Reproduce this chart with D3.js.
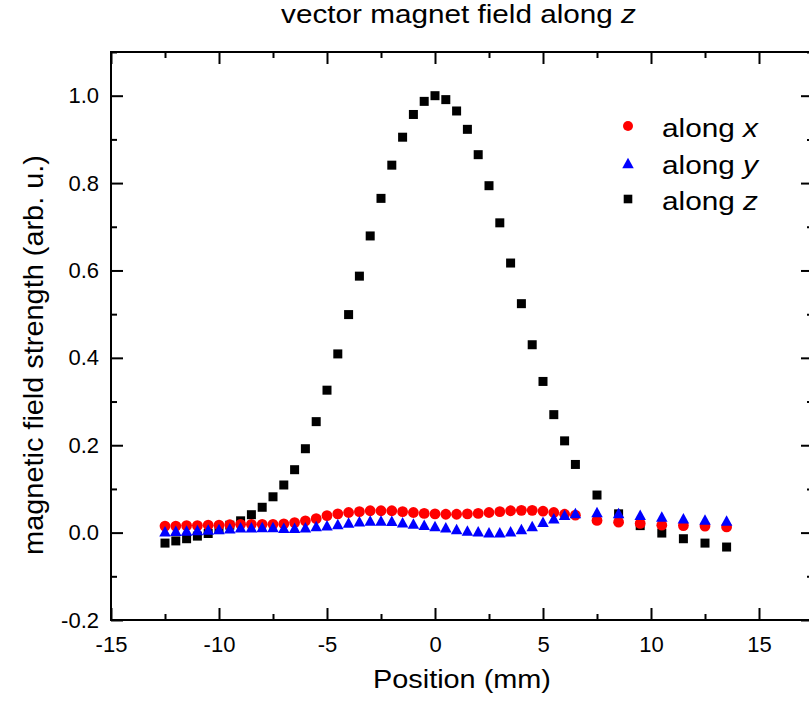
<!DOCTYPE html>
<html>
<head>
<meta charset="utf-8">
<script src="https://cdn.jsdelivr.net/npm/d3@7"></script>
<style>
  html, body { margin: 0; padding: 0; background: #fff; }
  svg { display: block; }
  text { font-family: "Liberation Sans", Arial, Helvetica, sans-serif; fill: #000; }
</style>
</head>
<body>
<svg id="chart" width="809" height="708"></svg>
<script>
// ---------- data ----------
const positions = [-12.5, -12, -11.5, -11, -10.5, -10, -9.5, -9, -8.5, -8, -7.5, -7, -6.5, -6, -5.5, -5,
  -4.5, -4, -3.5, -3, -2.5, -2, -1.5, -1, -0.5, 0, 0.5, 1, 1.5, 2, 2.5, 3, 3.5, 4, 4.5, 5, 5.5, 6, 6.5,
  7.5, 8.5, 9.5, 10.5, 11.5, 12.5, 13.5];

const alongX = [0.015, 0.015, 0.016, 0.016, 0.017, 0.017, 0.018, 0.019, 0.019, 0.019, 0.019, 0.020, 0.023, 0.027, 0.032, 0.039,
  0.043, 0.046, 0.048, 0.050, 0.050, 0.050, 0.048, 0.046, 0.044, 0.043, 0.042, 0.042, 0.043, 0.044, 0.046, 0.048, 0.050, 0.051, 0.051, 0.049, 0.046, 0.042, 0.040,
  0.028, 0.024, 0.021, 0.017, 0.016, 0.015, 0.013];

const alongY = [0.003, 0.004, 0.005, 0.006, 0.007, 0.008, 0.010, 0.012, 0.012, 0.013, 0.013, 0.011, 0.011, 0.012, 0.015, 0.017,
  0.020, 0.023, 0.026, 0.028, 0.028, 0.027, 0.024, 0.021, 0.018, 0.015, 0.012, 0.008, 0.005, 0.003, 0.001, 0.001, 0.003, 0.008, 0.015, 0.025, 0.033, 0.041, 0.045,
  0.047, 0.045, 0.041, 0.037, 0.033, 0.030, 0.028];

const alongZ = [-0.024, -0.019, -0.014, -0.008, -0.002, 0.007, 0.017, 0.027, 0.041, 0.058, 0.082, 0.109, 0.144, 0.192, 0.254, 0.326,
  0.409, 0.499, 0.587, 0.679, 0.765, 0.841, 0.905, 0.957, 0.987, 1.000, 0.991, 0.965, 0.923, 0.865, 0.794, 0.709, 0.617, 0.524, 0.430, 0.346, 0.270, 0.210, 0.156,
  0.086, 0.043, 0.016, -0.001, -0.014, -0.024, -0.033];

const xMajorTicks = [-15, -10, -5, 0, 5, 10, 15];
const xMinorTicks = [-12.5, -7.5, -2.5, 2.5, 7.5, 12.5, 17.5];
const yMajorTicks = [-0.2, 0.0, 0.2, 0.4, 0.6, 0.8, 1.0];
const yMinorTicks = [-0.1, 0.1, 0.3, 0.5, 0.7, 0.9, 1.1];

const titleText = "vector magnet field along ";
const titleItalic = "z";
const xLabel = "Position (mm)";
const yLabel = "magnetic field strength (arb. u.)";
const legendLabels = ["along ", "along ", "along "];
const legendItalics = ["x", "y", "z"];

// ---------- layout ----------
const svg = d3.select("#chart");
const L = 111, T = 52, R = 813, B = 620;

const x = d3.scaleLinear().domain([-15, 17.5]).range([L, R]);
const y = d3.scaleLinear().domain([-0.2, 1.1]).range([B, T]);

const hyphen = f => d => f(d).replace("\u2212", "-");

// ---------- axes (ticks inward) ----------
function styleAxis(g) {
  g.select(".domain").remove();
  g.selectAll(".tick line").attr("stroke", "#000").attr("stroke-width", 2);
  g.selectAll(".tick text").style("font-size", "22px").attr("fill", "#000");
}

svg.append("g").attr("transform", `translate(0,${B})`)
  .call(d3.axisBottom(x).tickValues(xMajorTicks).tickSize(-12).tickPadding(16).tickFormat(hyphen(d3.format("d"))))
  .call(styleAxis);
svg.append("g").attr("transform", `translate(0,${B})`)
  .call(d3.axisBottom(x).tickValues(xMinorTicks).tickSize(-6).tickFormat(""))
  .call(styleAxis);
svg.append("g").attr("transform", `translate(0,${T})`)
  .call(d3.axisTop(x).tickValues(xMajorTicks).tickSize(-12).tickFormat(""))
  .call(styleAxis);
svg.append("g").attr("transform", `translate(0,${T})`)
  .call(d3.axisTop(x).tickValues(xMinorTicks).tickSize(-6).tickFormat(""))
  .call(styleAxis);

svg.append("g").attr("transform", `translate(${L},0)`)
  .call(d3.axisLeft(y).tickValues(yMajorTicks).tickSize(-12).tickPadding(12).tickFormat(hyphen(d3.format(".1f"))))
  .call(styleAxis);
svg.append("g").attr("transform", `translate(${L},0)`)
  .call(d3.axisLeft(y).tickValues(yMinorTicks).tickSize(-6).tickFormat(""))
  .call(styleAxis);
svg.append("g").attr("transform", `translate(${R},0)`)
  .call(d3.axisRight(y).tickValues(yMajorTicks).tickSize(-12).tickFormat(""))
  .call(styleAxis);
svg.append("g").attr("transform", `translate(${R},0)`)
  .call(d3.axisRight(y).tickValues(yMinorTicks).tickSize(-6).tickFormat(""))
  .call(styleAxis);

// frame
svg.append("rect").attr("x", L).attr("y", T).attr("width", R - L).attr("height", B - T)
  .attr("fill", "none").attr("stroke", "#000").attr("stroke-width", 2);

// ---------- markers ----------
const triPath = (cx, cy, w, h) => `M${cx},${cy - h / 2}L${cx + w / 2},${cy + h / 2}L${cx - w / 2},${cy + h / 2}Z`;

const dataZ = positions.map((p, i) => ({ p, v: alongZ[i] }));
const dataX = positions.map((p, i) => ({ p, v: alongX[i] }));
const dataY = positions.map((p, i) => ({ p, v: alongY[i] }));

svg.append("g").selectAll("rect").data(dataZ).join("rect")
  .attr("x", d => x(d.p) - 4.5).attr("y", d => y(d.v) - 4.5)
  .attr("width", 9).attr("height", 9).attr("fill", "#000");

svg.append("g").selectAll("circle").data(dataX).join("circle")
  .attr("cx", d => x(d.p)).attr("cy", d => y(d.v)).attr("r", 5.4).attr("fill", "#ff0000");

svg.append("g").selectAll("path").data(dataY).join("path")
  .attr("d", d => triPath(x(d.p), y(d.v), 11.5, 10.5)).attr("fill", "#0000ff");

// ---------- texts (stretched along their direction to a target length) ----------
function fittedText(parent, tx, ty, rot, size, parts, anchor, targetLen, fixedScale) {
  const t = parent.append("text")
    .attr("text-anchor", anchor)
    .style("font-size", size + "px");
  parts.forEach(([s, it]) => {
    t.append("tspan").text(s).style("font-style", it ? "italic" : "normal");
  });
  let sx = fixedScale || 1;
  if (targetLen) {
    const len = t.node().getComputedTextLength();
    if (len > 0) sx = targetLen / len;
  }
  t.attr("transform", `translate(${tx},${ty}) rotate(${rot}) scale(${sx},1)`);
  return sx;
}

fittedText(svg, 458.5, 22.5, 0, 25, [[titleText, false], [titleItalic, true]], "middle", 355);
fittedText(svg, 462, 688, 0, 25, [[xLabel, false]], "middle", 178);
fittedText(svg, 43, 355, -90, 28, [[yLabel, false]], "middle", 400);

// legend
const legendRows = [126, 163, 199];
const lg = svg.append("g");
lg.append("circle").attr("cx", 628).attr("cy", legendRows[0]).attr("r", 5).attr("fill", "#ff0000");
lg.append("path").attr("d", triPath(628, legendRows[1], 11.5, 10.5)).attr("fill", "#0000ff");
lg.append("rect").attr("x", 628 - 4.3).attr("y", legendRows[2] - 4.3).attr("width", 8.6).attr("height", 8.6).attr("fill", "#000");
let legendScale = null;
legendRows.forEach((ry, i) => {
  const parts = [[legendLabels[i], false], [legendItalics[i], true]];
  if (legendScale === null) {
    legendScale = fittedText(lg, 662, ry + 10.5, 0, 26, parts, "start", 96);
  } else {
    fittedText(lg, 662, ry + 10.5, 0, 26, parts, "start", null, legendScale);
  }
});
</script>
</body>
</html>
